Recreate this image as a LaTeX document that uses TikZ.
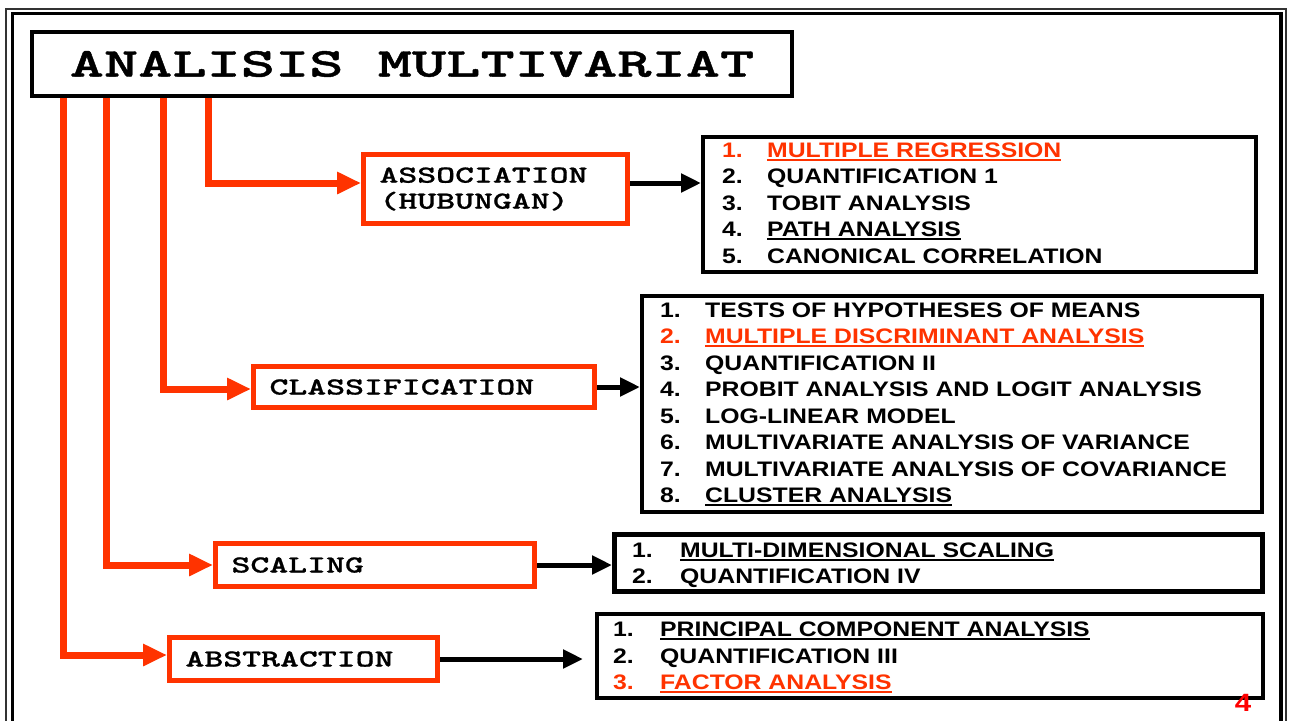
\documentclass[tikz,border=0pt]{standalone}
\usepackage{fontspec}
\usetikzlibrary{arrows.meta}
\newfontfamily\listfont{Liberation Sans}[FakeStretch=1.18]
\newfontfamily\tfont{lmmonolt10-bold}[Extension=.otf,FakeStretch=1.59,FakeBold=1]
\newfontfamily\cfont{lmmonolt10-bold}[Extension=.otf,FakeStretch=1.47,FakeBold=0.8]
\definecolor{ored}{RGB}{255,51,0}
\newcommand\myul[1]{\setbox0\hbox{#1}\rlap{\rule[-3.5pt]{\wd0}{2pt}}\box0}
\begin{document}
\begin{tikzpicture}[x=1pt,y=-1pt,
  titlebox/.style={draw=black,line width=4pt,minimum width=760pt,minimum height=64pt,inner sep=0pt,
    font=\tfont\fontsize{41}{48}\selectfont},
  catbox/.style={draw=ored,line width=5pt,inner xsep=16pt,inner ysep=0pt,align=left,
    font=\cfont\fontsize{24.5}{26}\selectfont},
  listbox/.style={draw=black,line width=4pt,inner sep=0pt},
  listitem/.style={font=\listfont\bfseries\fontsize{21}{25}\selectfont,inner sep=0pt,anchor=base west},
  redarrow/.style={draw=ored,line width=7pt,-{Triangle[length=24pt,width=21pt]}},
  blackarrow/.style={draw=black,line width=5pt,-{Triangle[length=20pt,width=18pt]}}
]
\useasboundingbox (0,0) rectangle (1289,720);
% outer double frame
\begin{scope}
\clip (0,0) rectangle (1289,720);
\draw[line width=2.5pt,black!80] (6,760) -- (6,9) -- (1286,9) -- (1286,760);
\draw[line width=3.5pt,black] (12.5,760) -- (12.5,13.5) -- (1281,13.5) -- (1281,760);
\end{scope}

% title
\node[titlebox] (title) at (412,64) {ANALISIS MULTIVARIAT};

% category boxes
\node[catbox,minimum width=264pt,minimum height=69pt,text width=232pt] (assoc) at (495.5,189)
  {ASSOCIATION\\(HUBUNGAN)};
\node[catbox,minimum width=341pt,minimum height=41pt,text width=309pt] (classif) at (424,387)
  {CLASSIFICATION};
\node[catbox,minimum width=319pt,minimum height=43pt,text width=287pt] (scaling) at (375,565)
  {SCALING};
\node[catbox,minimum width=268pt,minimum height=43pt,text width=236pt] (abstr) at (303.5,659)
  {ABSTRACTION};

% list boxes
\node[listbox,minimum width=553pt,minimum height=135pt] (list1) at (979.5,204.5) {};
\node[listbox,minimum width=620pt,minimum height=216pt] (list2) at (952,404) {};
\node[listbox,line width=5pt,minimum width=648pt,minimum height=57pt] (list3) at (938.5,563) {};
\node[listbox,minimum width=666pt,minimum height=84pt] (list4) at (930,656) {};

% list 1
\node[listitem,text=ored] (a1) at (722,157) {\makebox[45pt][l]{1.}\myul{MULTIPLE REGRESSION}};
\node[listitem] (a2) at (722,183.5) {\makebox[45pt][l]{2.}QUANTIFICATION 1};
\node[listitem] (a3) at (722,210) {\makebox[45pt][l]{3.}TOBIT ANALYSIS};
\node[listitem] (a4) at (722,236.5) {\makebox[45pt][l]{4.}\myul{PATH ANALYSIS}};
\node[listitem] (a5) at (722,263) {\makebox[45pt][l]{5.}CANONICAL CORRELATION};

% list 2
\node[listitem] (b1) at (660,317) {\makebox[45pt][l]{1.}TESTS OF HYPOTHESES OF MEANS};
\node[listitem,text=ored] (b2) at (660,343.5) {\makebox[45pt][l]{2.}\myul{MULTIPLE DISCRIMINANT ANALYSIS}};
\node[listitem] (b3) at (660,370) {\makebox[45pt][l]{3.}QUANTIFICATION II};
\node[listitem] (b4) at (660,396.5) {\makebox[45pt][l]{4.}PROBIT ANALYSIS AND LOGIT ANALYSIS};
\node[listitem] (b5) at (660,423) {\makebox[45pt][l]{5.}LOG-LINEAR MODEL};
\node[listitem] (b6) at (660,449.5) {\makebox[45pt][l]{6.}MULTIVARIATE ANALYSIS OF VARIANCE};
\node[listitem] (b7) at (660,476) {\makebox[45pt][l]{7.}MULTIVARIATE ANALYSIS OF COVARIANCE};
\node[listitem] (b8) at (660,502.5) {\makebox[45pt][l]{8.}\myul{CLUSTER ANALYSIS}};

% list 3
\node[listitem] (c1) at (632,557) {\makebox[48pt][l]{1.}\myul{MULTI-DIMENSIONAL SCALING}};
\node[listitem] (c2) at (632,583) {\makebox[48pt][l]{2.}QUANTIFICATION IV};

% list 4
\node[listitem] (d1) at (613,636) {\makebox[47pt][l]{1.}\myul{PRINCIPAL COMPONENT ANALYSIS}};
\node[listitem] (d2) at (613,663) {\makebox[47pt][l]{2.}QUANTIFICATION III};
\node[listitem,text=ored] (d3) at (613,689) {\makebox[47pt][l]{3.}\myul{FACTOR ANALYSIS}};

% page number
\node[font=\listfont\bfseries\fontsize{25}{30}\selectfont,text=red,inner sep=0pt,anchor=base] (pnum) at (1243,711) {4};

% red connectors
\draw[redarrow] ([xshift=178pt]title.south west) |- ([yshift=6pt]assoc.west);
\draw[redarrow] ([xshift=133pt]title.south west) |- ([yshift=-2pt]classif.west);
\draw[redarrow] ([xshift=76pt]title.south west) |- (scaling.west);
\draw[redarrow] ([xshift=33pt]title.south west) |- ([yshift=4pt]abstr.west);

% black connectors
\draw[blackarrow] ([yshift=6pt]assoc.east) -- ([yshift=6pt]assoc.east -| list1.west);
\draw[blackarrow] (classif.east) -- (classif.east -| list2.west);
\draw[blackarrow] (scaling.east) -- (scaling.east -| list3.west);
\draw[blackarrow,shorten >=12pt] (abstr.east) -- (abstr.east -| list4.west);
\end{tikzpicture}
\end{document}
